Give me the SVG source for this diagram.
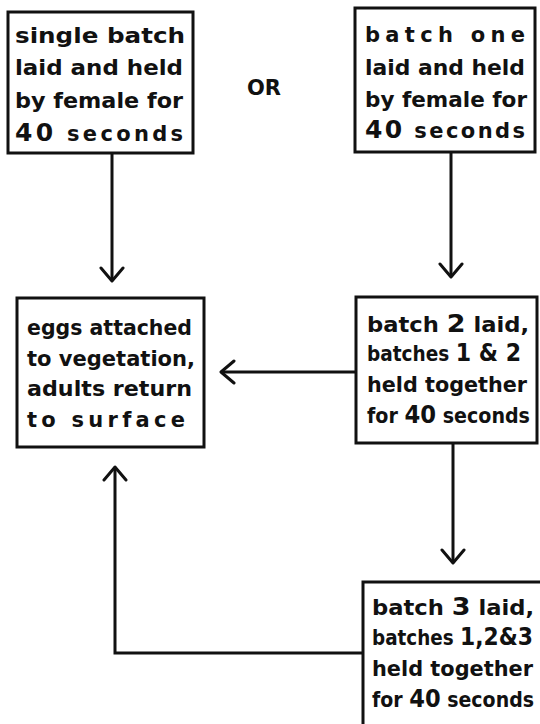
<svg xmlns="http://www.w3.org/2000/svg" width="540" height="724" viewBox="0 0 540 724">
<style>
.box{fill:#fff;stroke:#111;stroke-width:3}
.t{font-family:"DejaVu Sans","Liberation Sans",sans-serif;font-weight:bold;font-size:21px;fill:#111}
.n{font-size:25px}
.c{fill:none;stroke:#111;stroke-width:3}
</style>
<defs>
<marker id="ah" markerUnits="userSpaceOnUse" viewBox="-16 -13 19 26" markerWidth="19" markerHeight="26" refX="0" refY="0" orient="auto">
<path d="M-13,-11 L0,0 L-13,11" fill="none" stroke="#111" stroke-width="3" stroke-linejoin="round" stroke-linecap="round"/>
</marker>
</defs>
<rect width="540" height="724" fill="#fff"/>
<g id="connectors">
<line class="c" x1="112" y1="153" x2="112" y2="281" marker-end="url(#ah)"/>
<line class="c" x1="451" y1="152" x2="451" y2="277" marker-end="url(#ah)"/>
<line class="c" x1="356" y1="372" x2="221" y2="372" marker-end="url(#ah)"/>
<line class="c" x1="453" y1="443" x2="453" y2="563" marker-end="url(#ah)"/>
<polyline class="c" points="363,653 115,653 115,467" marker-end="url(#ah)"/>
</g>
<g id="node-single">
<rect class="box" x="8" y="12" width="185" height="141"/>
<text class="t" x="15" y="43" textLength="170" lengthAdjust="spacingAndGlyphs">single  batch</text>
<text class="t" x="15" y="75" textLength="168" lengthAdjust="spacingAndGlyphs">laid and held</text>
<text class="t" x="15" y="108" textLength="168" lengthAdjust="spacingAndGlyphs">by female for</text>
<text class="t" x="15" y="141" textLength="168" lengthAdjust="spacing"><tspan class="n">40</tspan> seconds</text>
</g>
<g id="or-label">
<text class="t" x="264" y="95" text-anchor="middle" style="font-size:21px">OR</text>
</g>
<g id="node-batch-one">
<rect class="box" x="355" y="8" width="180" height="144"/>
<text class="t" x="365" y="42" textLength="160" lengthAdjust="spacing">batch one</text>
<text class="t" x="365" y="75" textLength="160" lengthAdjust="spacingAndGlyphs">laid and held</text>
<text class="t" x="365" y="107" textLength="162" lengthAdjust="spacingAndGlyphs">by female for</text>
<text class="t" x="365" y="138" textLength="160" lengthAdjust="spacing"><tspan class="n">40</tspan> seconds</text>
</g>
<g id="node-eggs">
<rect class="box" x="17" y="298" width="187" height="149"/>
<text class="t" x="27" y="335" textLength="165" lengthAdjust="spacingAndGlyphs">eggs attached</text>
<text class="t" x="27" y="366" textLength="168" lengthAdjust="spacingAndGlyphs">to vegetation,</text>
<text class="t" x="27" y="396" textLength="165" lengthAdjust="spacingAndGlyphs">adults return</text>
<text class="t" x="27" y="427" textLength="158" lengthAdjust="spacing">to  surface</text>
</g>
<g id="node-batch-two">
<rect class="box" x="356" y="297" width="181" height="146"/>
<text class="t" x="367" y="332" textLength="162" lengthAdjust="spacingAndGlyphs">batch <tspan class="n">2</tspan> laid,</text>
<text class="t" x="367" y="361" textLength="154" lengthAdjust="spacingAndGlyphs">batches <tspan class="n">1 &amp; 2</tspan></text>
<text class="t" x="367" y="392" textLength="160" lengthAdjust="spacingAndGlyphs">held together</text>
<text class="t" x="367" y="423" textLength="163" lengthAdjust="spacingAndGlyphs">for <tspan class="n">40</tspan> seconds</text>
</g>
<g id="node-batch-three">
<rect class="box" x="363" y="582" width="185" height="160"/>
<text class="t" x="372" y="615" textLength="162" lengthAdjust="spacingAndGlyphs">batch <tspan class="n">3</tspan> laid,</text>
<text class="t" x="372" y="645" textLength="161" lengthAdjust="spacingAndGlyphs">batches <tspan class="n">1,2&amp;3</tspan></text>
<text class="t" x="372" y="676" textLength="161" lengthAdjust="spacingAndGlyphs">held together</text>
<text class="t" x="372" y="707" textLength="162" lengthAdjust="spacingAndGlyphs">for <tspan class="n">40</tspan> seconds</text>
</g>
</svg>
